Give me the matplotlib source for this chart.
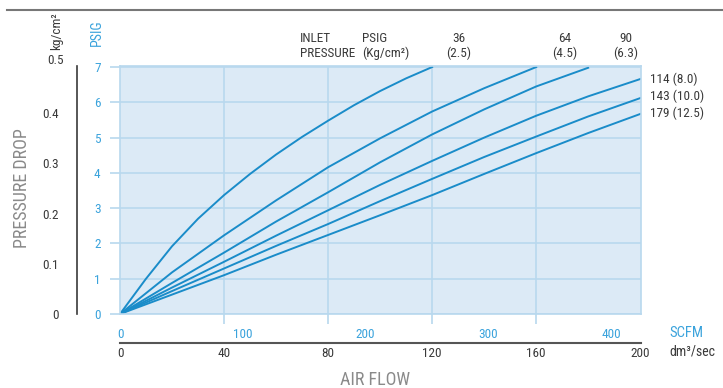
import matplotlib
matplotlib.use('Agg')
import matplotlib.pyplot as plt
from matplotlib.lines import Line2D

plt.rcParams['font.family'] = ['Roboto Condensed', 'Liberation Sans Narrow', 'Roboto', 'DejaVu Sans']

# air flow in dm3/sec, pressure drop in PSIG
flow = [0, 20, 40, 60, 80, 100, 120, 140, 160, 180, 200]
flow_36 = [0, 10, 20, 30, 40, 50, 60, 70, 80, 90, 100, 110, 120]
drop_36 = [0, 1.00, 1.92, 2.70, 3.37, 3.97, 4.52, 5.02, 5.48, 5.92, 6.32, 6.68, 7.00]
drop_64 = [0, 1.18, 2.23, 3.22, 4.16, 4.98, 5.74, 6.40, 7.00]
drop_90 = [0, 0.88, 1.74, 2.62, 3.45, 4.30, 5.09, 5.80, 6.45, 6.98]
drop_114 = [0, 0.75, 1.48, 2.22, 2.94, 3.66, 4.34, 5.00, 5.62, 6.17, 6.66]
drop_143 = [0, 0.65, 1.29, 1.93, 2.55, 3.20, 3.83, 4.45, 5.03, 5.60, 6.12]
drop_179 = [0, 0.55, 1.10, 1.68, 2.24, 2.80, 3.37, 3.97, 4.56, 5.13, 5.67]
series = [drop_64, drop_90, drop_114, drop_143, drop_179]

top_labels = ['36\n(2.5)', '64\n(4.5)', '90\n(6.3)']
right_labels = ['114 (8.0)', '143 (10.0)', '179 (12.5)']

psig_ticks = [0, 1, 2, 3, 4, 5, 6, 7]
kg_ticks = [0, 0.1, 0.2, 0.3, 0.4]
scfm_ticks = [0, 100, 200, 300, 400]
dm3_ticks = [0, 40, 80, 120, 160, 200]

BLUE = '#1a8cc9'
LBLUE = '#3ba3dc'
GRID = '#b8d8ee'
BG = '#dceaf6'
DARK = '#3a3a3a'
GRAY = '#8a8a8a'
FS = 9.5

fig = plt.figure(figsize=(7.23, 3.88), dpi=100)
ax = fig.add_axes([120 / 723, 1 - 314 / 388, 521 / 723, 248 / 388])
ax.set_facecolor(BG)

ax.plot(flow_36, drop_36, color=BLUE, lw=1.4)
for ys in series:
    ax.plot(flow[:len(ys)], ys, color=BLUE, lw=1.4)

ax.set_xlim(0, 200.3)
ax.set_ylim(0, 7.03)

ax.set_xticks([40, 80, 120, 160])
ax.set_xticklabels([])
ax.set_yticks(psig_ticks)
ax.set_yticklabels([str(t) for t in psig_ticks], color=LBLUE, fontsize=FS)
ax.grid(True, color=GRID, lw=1.2)
ax.tick_params(axis='both', length=7, width=1.2, color=GRID, pad=7)
for s in ax.spines.values():
    s.set_color(GRID)
    s.set_linewidth(1.2)

# kg/cm2 axis on the far left
kg = ax.secondary_yaxis(-0.082, functions=(lambda p: p / 14.223, lambda k: k * 14.223))
kg.set_yticks(kg_ticks)
kg.set_yticklabels(['0', '0.1', '0.2', '0.3', '0.4'], color=DARK, fontsize=FS)
kg.tick_params(length=0, pad=13)
kg.spines['left'].set_color(DARK)
kg.spines['left'].set_linewidth(1.2)
# 0.5 sits just above the plot area
fig.text(64 / 723, 1 - 60 / 388, '0.5', ha='right', va='center', color=DARK, fontsize=FS)

# SCFM labels under the plot
scfm = ax.secondary_xaxis(0, functions=(lambda d: d / 0.4719, lambda s: s * 0.4719))
scfm.set_xticks(scfm_ticks)
scfm.set_xticklabels([str(t) for t in scfm_ticks], color=LBLUE, fontsize=FS)
scfm.tick_params(length=0, pad=10)
scfm.spines['bottom'].set_visible(False)

# dm3/sec axis
dm3 = ax.secondary_xaxis(-0.117)
dm3.set_xticks(dm3_ticks)
dm3.set_xticklabels([str(t) for t in dm3_ticks], color=DARK, fontsize=FS)
dm3.tick_params(length=0, pad=3)
dm3.spines['bottom'].set_color('#555555')
dm3.spines['bottom'].set_linewidth(1.5)

# texts
fig.text(57 / 723, 1 - 31 / 388, 'kg/cm²', rotation=90, ha='center', va='center', color=DARK, fontsize=9.5)
fig.text(97 / 723, 1 - 33 / 388, 'PSIG', rotation=90, ha='center', va='center', color=LBLUE, fontsize=10)
fig.text(22 / 723, 1 - 188 / 388, 'PRESSURE DROP', rotation=90, ha='center', va='center', color=GRAY, fontsize=13)
fig.text(375 / 723, 1 - 380 / 388, 'AIR FLOW', ha='center', va='center', color=GRAY, fontsize=13)
fig.text(669 / 723, 1 - 333 / 388, 'SCFM', ha='left', va='center', color=LBLUE, fontsize=10.5)
fig.text(669 / 723, 1 - 352 / 388, 'dm³/sec', ha='left', va='center', color=DARK, fontsize=10)

fig.text(300 / 723, 1 - 46 / 388, 'INLET\nPRESSURE', ha='left', va='center', color=DARK, fontsize=FS, linespacing=1.15)
fig.text(362 / 723, 1 - 46 / 388, 'PSIG\n(Kg/cm²)', ha='left', va='center', color=DARK, fontsize=FS, linespacing=1.15)
for lab, x in zip(top_labels, [459, 565, 626]):
    fig.text(x / 723, 1 - 46 / 388, lab, ha='center', va='center', color=DARK, fontsize=FS, linespacing=1.15)
for lab, y in zip(right_labels, [79, 96, 113]):
    fig.text(650 / 723, 1 - y / 388, lab, ha='left', va='center', color=DARK, fontsize=FS)

fig.add_artist(Line2D([7 / 723, 1], [1 - 10 / 388, 1 - 10 / 388], color='#777777', lw=1.5))

fig.savefig('out.png', dpi=100)
